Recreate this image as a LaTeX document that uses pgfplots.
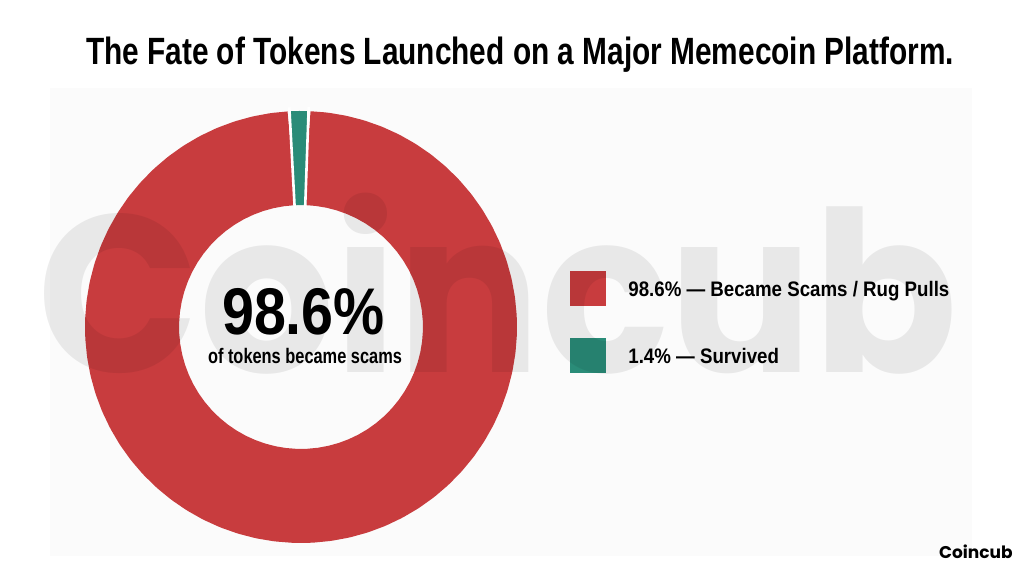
\documentclass[border=0pt]{standalone}
\usepackage{pgfplots}
\pgfplotsset{compat=1.18}
\usepackage{graphicx}
\usepackage{fontspec}
\setmainfont{Liberation Sans}
\newfontfamily\pop{Poppins}
\definecolor{scamred}{RGB}{200,60,62}
\definecolor{survgreen}{RGB}{42,140,120}
\definecolor{panel}{RGB}{251,251,251}
\begin{document}
\begin{tikzpicture}
\begin{axis}[hide axis, scale only axis, width=512pt, height=288pt,
  xmin=-301, xmax=723, ymin=-249, ymax=327, clip=false]
% page and faint panel
\fill[white] (axis cs:-301,-249) rectangle (axis cs:723,327);
\fill[panel] (axis cs:-251,-229) rectangle (axis cs:671,239);
% donut: 98.6% scams (clockwise from 88 deg), 1.4% survived
\addplot[scamred, line width=47pt, data cs=polar, mark=none, line join=round] coordinates {
(88,169) (83,169) (78,169) (73,169) (68,169) (63,169) (58,169) (53,169) (48,169) (43,169)
(38,169) (33,169) (28,169) (23,169) (18,169) (13,169) (8,169) (3,169) (-2,169) (-7,169)
(-12,169) (-17,169) (-22,169) (-27,169) (-32,169) (-37,169) (-42,169) (-47,169) (-52,169) (-57,169)
(-62,169) (-67,169) (-72,169) (-77,169) (-82,169) (-87,169) (-92,169) (-97,169) (-102,169) (-107,169)
(-112,169) (-117,169) (-122,169) (-127,169) (-132,169) (-137,169) (-142,169) (-147,169) (-152,169) (-157,169)
(-162,169) (-167,169) (-172,169) (-177,169) (-182,169) (-187,169) (-192,169) (-197,169) (-202,169) (-207,169)
(-212,169) (-217,169) (-222,169) (-227,169) (-232,169) (-237,169) (-242,169) (-247,169) (-252,169) (-257,169)
(-262,169) (-266.96,169)};
\addplot[survgreen, line width=47pt, data cs=polar, mark=none] coordinates {
(93.04,169) (90.5,169) (88,169)};
\addplot[white, line width=1.3pt, data cs=polar, mark=none] coordinates {(88,118) (88,220)};
\addplot[white, line width=1.3pt, data cs=polar, mark=none] coordinates {(93.04,118) (93.04,220)};
% title
\node[anchor=base, inner sep=0pt] at (axis cs:219,262) {\fontsize{19}{22}\selectfont\bfseries\scalebox{0.785}[1]{The Fate of Tokens Launched on a Major Memecoin Platform.}};
% centre text
\node[anchor=base, inner sep=0pt] at (axis cs:2.5,-8) {\fontsize{33}{36}\selectfont\bfseries\scalebox{0.87}[1]{98.6\%}};
\node[anchor=base, inner sep=0pt] at (axis cs:4,-37) {\fontsize{10.5}{12}\selectfont\bfseries\scalebox{0.78}[1]{of tokens became scams}};
% legend
\fill[scamred] (axis cs:269,21) rectangle (axis cs:305,56);
\fill[survgreen] (axis cs:269,-46) rectangle (axis cs:305,-11);
\node[anchor=base west, inner sep=0pt] at (axis cs:327,30) {\fontsize{10.5}{12}\selectfont\bfseries\scalebox{0.89}[1]{98.6\% — Became Scams / Rug Pulls}};
\node[anchor=base west, inner sep=0pt] at (axis cs:327,-37) {\fontsize{10.5}{12}\selectfont\bfseries\scalebox{0.89}[1]{1.4\% — Survived}};
% watermark
\node[anchor=base, inner sep=0pt, text=black, text opacity=0.075] at (axis cs:196.5,-46) {\pop\bfseries\fontsize{112}{112}\selectfont\scalebox{0.95}[1]{Coincub}};
% brand
\node[anchor=base east, inner sep=0pt] at (axis cs:712,-232) {\pop\bfseries\fontsize{8.5}{10}\selectfont Coincub};
\end{axis}
\end{tikzpicture}
\end{document}
